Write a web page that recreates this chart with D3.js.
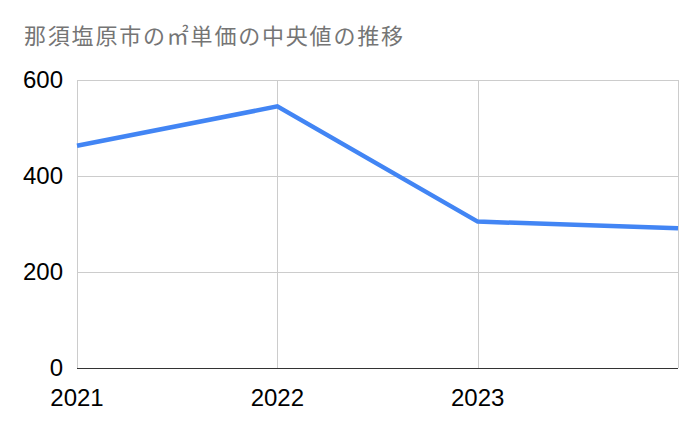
<!DOCTYPE html>
<html>
<head>
<meta charset="utf-8">
<script src="https://cdn.jsdelivr.net/npm/d3@7"></script>
<style>
  body { margin: 0; background: #fff; }
  text { font-family: "Liberation Sans", Arial, sans-serif; }
</style>
</head>
<body>
<div id="chartbox"></div>
<script>
const title = '那須塩原市の㎡単価の中央値の推移'
const years = [2021, 2022, 2023, 2024]
const values = [463, 545, 305, 291]
const yTicks = [0, 200, 400, 600]
const xLabels = [2021, 2022, 2023]

const WIDTH = 700
const HEIGHT = 433
const chart = { left: 77, right: 678, top: 80, bottom: 368 }

const svg = d3.select('#chartbox')
  .append('svg')
  .attr('width', WIDTH)
  .attr('height', HEIGHT)

const x = d3.scaleLinear()
  .domain([2021, 2024])
  .range([chart.left, chart.right])

const y = d3.scaleLinear()
  .domain([0, 600])
  .range([chart.bottom, chart.top])

svg.append('text')
  .attr('x', 24)
  .attr('y', 44)
  .attr('fill', '#757575')
  .style('font-family', '"Noto Sans CJK JP", sans-serif')
  .style('font-size', '22px')
  .style('letter-spacing', '1.8px')
  .text(title)

// horizontal grid
svg.append('g')
  .selectAll('line')
  .data(yTicks.filter(d => d > 0))
  .enter()
  .append('line')
  .attr('x1', chart.left)
  .attr('x2', chart.right)
  .attr('y1', d => y(d) + 0.5)
  .attr('y2', d => y(d) + 0.5)
  .attr('stroke', '#cccccc')

// vertical grid
svg.append('g')
  .selectAll('line')
  .data(years)
  .enter()
  .append('line')
  .attr('x1', d => Math.round(x(d)) + 0.5)
  .attr('x2', d => Math.round(x(d)) + 0.5)
  .attr('y1', chart.top)
  .attr('y2', chart.bottom)
  .attr('stroke', '#cccccc')

// baseline
svg.append('line')
  .attr('x1', chart.left)
  .attr('x2', chart.right)
  .attr('y1', y(0) + 0.5)
  .attr('y2', y(0) + 0.5)
  .attr('stroke', '#333333')

// y labels
svg.append('g')
  .selectAll('text')
  .data(yTicks)
  .enter()
  .append('text')
  .attr('x', 63)
  .attr('y', d => y(d) + 8)
  .attr('text-anchor', 'end')
  .style('font-size', '24px')
  .attr('fill', '#000')
  .text(d => d)

// x labels
svg.append('g')
  .selectAll('text')
  .data(xLabels)
  .enter()
  .append('text')
  .attr('x', d => x(d))
  .attr('y', 406)
  .attr('text-anchor', 'middle')
  .style('font-size', '24px')
  .attr('fill', '#000')
  .text(d => d)

const line = d3.line()
  .x((d, i) => x(years[i]))
  .y(d => y(d))

svg.append('path')
  .datum(values)
  .attr('d', line)
  .attr('fill', 'none')
  .attr('stroke', '#4285f4')
  .attr('stroke-width', 4.5)
  .attr('stroke-linejoin', 'miter')
</script>
</body>
</html>
